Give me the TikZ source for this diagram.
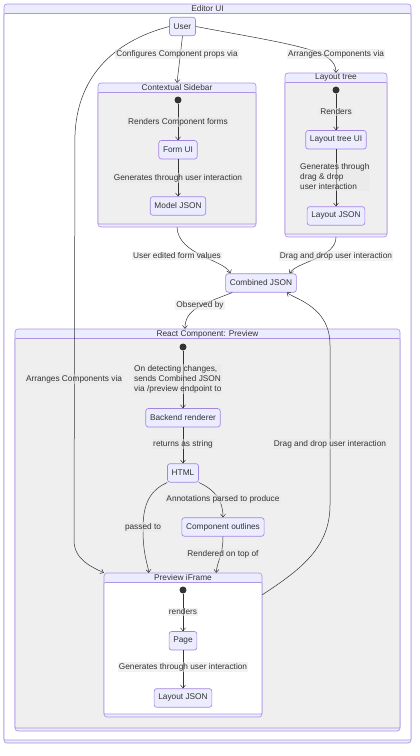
\documentclass[tikz,border=0pt]{standalone}
\usepackage{fontspec}
\setmainfont{Liberation Sans}
\usetikzlibrary{positioning, arrows.meta, fit}

\definecolor{nodefill}{HTML}{ECECFF}
\definecolor{nodeline}{HTML}{9370DB}
\definecolor{textgrey}{HTML}{333333}
\definecolor{bodygrey}{HTML}{EFEFEF}
\definecolor{labelbg}{HTML}{E8E8E8}

% composite state: name, x1, y1, x2, y2, title, body colour
\newcommand{\compstate}[7]{%
  \draw [cbox, fill=nodefill] (#2,#3) rectangle (#4,#5);
  \draw [cbox, fill=#7, rounded corners=1pt] (#2,{#3+9.5}) rectangle (#4,{#5-3});
  \node (#1title) at ({(#2+#4)/2},{#3+5}) {#6};
  \node (#1) [fit={(#2,#3) (#4,#5)}, inner sep=0pt] {};
}

\begin{document}
\begin{tikzpicture}[x=1pt, y=-1pt, >={Straight Barb[length=3pt,width=5pt]}, font=\fontsize{8.3}{10}\selectfont, text=textgrey]
    \tikzstyle{block} = [rectangle,rounded corners=2.5pt,draw=nodeline!85,fill=nodefill,line width=0.65pt,minimum height=18.5pt,inner xsep=4.2pt]
    \tikzstyle{startdot} = [circle,fill=textgrey,minimum size=7pt,inner sep=0pt]
    \tikzstyle{elabel} = [fill=labelbg,fill opacity=0.55,text opacity=1,inner sep=1pt,align=left]
    \tikzstyle{cbox} = [draw=nodeline!75,line width=0.65pt,rounded corners=3pt]
    \tikzstyle{edge} = [->,draw=textgrey,line width=0.5pt]

    \fill [white] (0,0) rectangle (420,756);
    \useasboundingbox (0,0) rectangle (420,756);

    \compstate{editor}{4}{4}{411}{743}{Editor UI}{white}
    \compstate{sidebar}{98}{83}{256}{227}{Contextual Sidebar}{bodygrey}
    \compstate{ltree}{285}{73}{387}{237}{Layout tree}{bodygrey}
    \compstate{react}{15}{329}{400}{731}{React Component: Preview}{bodygrey}
    \compstate{iframe}{104}{573}{262}{717}{Preview iFrame}{white}

    \node (user) [block] at (182.5,26.5) {User};
    \node (combined) [block] at (261,283) {Combined JSON};

    % contextual sidebar
    \node (sidedot) [startdot] at (178,100) {};
    \node (formui) [block,below=36.5pt of sidedot] {Form UI};
    \node (modeljson) [block,below=37pt of formui] {Model JSON};

    % layout tree
    \node (ltdot) [startdot] at (336,90) {};
    \node (ltui) [block,below=36.5pt of ltdot] {Layout tree UI};
    \node (ltjson) [block,below=57pt of ltui] {Layout JSON};

    % preview
    \node (rdot) [startdot] at (183,347) {};
    \node (backend) [block,below=57.5pt of rdot] {Backend renderer};
    \node (html) [block,below=36pt of backend] {HTML};
    \node (outlines) [block] at (223,527) {Component outlines};

    % iframe
    \node (fdot) [startdot] at (183,590) {};
    \node (page) [block,below=37.5pt of fdot] {Page};
    \node (pagejson) [block,below=38pt of page] {Layout JSON};

    \draw [edge] (user.south) -- (sidebar.north);
    \draw [edge] (user.east) .. controls (300,46) and (336,50) .. (ltree.north);
    \draw [edge] (user.west) .. controls (110,42) and (77,80) .. (75,135) -- (74,540) .. controls (74,560) and (92,567) .. (iframe.north west);
    \draw [edge] (sidebar.south) .. controls (178,255) and (225,260) .. ([xshift=5pt]combined.north west);
    \draw [edge] (ltree.south) .. controls (336,258) and (296,262) .. ([xshift=-7pt]combined.north east);
    \draw [edge] ([xshift=7pt]combined.south west) .. controls (200,305) and (185,310) .. ([xshift=-22.5pt]react.north);
    \draw [edge] ([yshift=-22pt]iframe.north east) .. controls (300,570) and (330,548) .. (330,505) -- (330,345) .. controls (330,308) and (298,300) .. ([xshift=-10pt]combined.south east);

    \draw [edge] (sidedot) -- (formui);
    \draw [edge] (formui) -- (modeljson);
    \draw [edge] (ltdot) -- (ltui);
    \draw [edge] (ltui) -- (ltjson);
    \draw [edge] (rdot) -- (backend);
    \draw [edge] (backend) -- (html);
    \draw [edge] (html.south east) .. controls (215,490) and (223,500) .. (outlines.north);
    \draw [edge] (html.south west) .. controls (146,492) and (143,510) .. (143,530) .. controls (143,555) and (148,565) .. ([xshift=45pt]iframe.north west);
    \draw [edge] (outlines.south) .. controls (223,555) and (217,562) .. ([xshift=-46pt]iframe.north east);
    \draw [edge] (fdot) -- (page);
    \draw [edge] (page) -- (pagejson);

    \node (lconfig) [elabel] at (177,54) {Configures Component props via};
    \node (larrange) [elabel] at (336,54) {Arranges Components via};
    \node (lforms) [elabel] at (178,122) {Renders Component forms};
    \node (lgenform) [elabel] at (178,178) {Generates through user interaction};
    \node (lrenders) [elabel] at (336,112) {Renders};
    \node (lgentree) [elabel,anchor=west] at (299,177) {Generates through\\drag \& drop\\user interaction};
    \node (ledited) [elabel] at (177,256) {User edited form values};
    \node (ldragtree) [elabel] at (336,256) {Drag and drop user interaction};
    \node (lobserved) [elabel] at (200,305) {Observed by};
    \node (larrpreview) [elabel] at (74,379) {Arranges Components via};
    \node (ldetect) [elabel,anchor=west] at (133,379) {On detecting changes,\\sends Combined JSON\\via /preview endpoint to};
    \node (lreturns) [elabel] at (183,444) {returns as string};
    \node (ldragframe) [elabel] at (330,444) {Drag and drop user interaction};
    \node (lannot) [elabel] at (223,499) {Annotations parsed to produce};
    \node (lpassed) [elabel] at (143,527) {passed to};
    \node (lontop) [elabel] at (223,554) {Rendered on top of};
    \node (lpage) [elabel] at (183,612) {renders};
    \node (lgenpage) [elabel] at (183,667) {Generates through user interaction};

\end{tikzpicture}
\end{document}
